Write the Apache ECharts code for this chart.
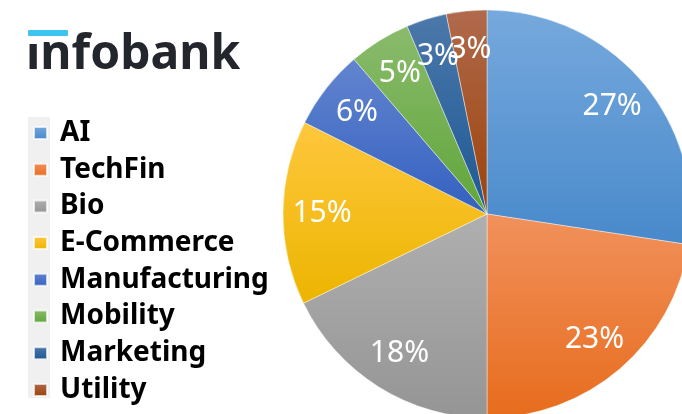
<!DOCTYPE html>
<html><head><meta charset="utf-8">
<script src="https://cdn.jsdelivr.net/npm/echarts@6/dist/echarts.min.js"></script>
<style>html,body{margin:0;padding:0;background:#fff}#c{width:682px;height:414px}</style>
</head><body><div id="c"></div>
<script>
const categories = ['AI','TechFin','Bio','E-Commerce','Manufacturing','Mobility','Marketing','Utility'];
const shares = [27.4, 22.6, 17.8, 14.6, 6.3, 4.9, 3.2, 3.2];
const topColors = ['#76a9dd','#f1915c','#afafaf','#ffc73d','#6385cf','#8abb6c','#4c78aa','#b06a4c'];
const bottomColors = ['#4889cb','#e76c1d','#959595','#ecb500','#3360c0','#60a53a','#1d5894','#9b4208'];
const brand = 'infobank';

function grad(i){
  return {type:'linear',x:0,y:0,x2:0,y2:1,colorStops:[{offset:0,color:topColors[i]},{offset:1,color:bottomColors[i]}]};
}
const pieData = categories.map((n,i)=>({name:n,value:shares[i],itemStyle:{color:grad(i)}}));
const chart = echarts.init(document.getElementById('c'));
chart.setOption({
  backgroundColor:'#fff',
  animation:false,
  graphic:[
    {type:'rect',shape:{x:28,y:117,width:22,height:281},style:{fill:'#f0f0f0'},z:-1},
    {type:'text',left:26,top:31,style:{text:brand,fontFamily:'Noto Sans',fontWeight:'bold',fontSize:48,fill:'#23272d'}},
    {type:'rect',shape:{x:26,y:33,width:16,height:11},style:{fill:'#fff'},z:101},
    {type:'rect',shape:{x:28,y:30,width:40,height:6,r:1},style:{fill:'#3cc5f0'},z:102}
  ],
  legend:{
    orient:'vertical',left:33,top:118,padding:0,
    itemWidth:13,itemHeight:12,itemGap:6.7,icon:'rect',
    textStyle:{fontFamily:'Noto Sans',fontWeight:'bold',fontSize:28,color:'#000',lineHeight:30,padding:[0,0,0,8]},
    data:categories
  },
  series:[
    {type:'pie',center:[487,214],radius:[0,204],startAngle:90,clockwise:true,
     itemStyle:{borderColor:'rgba(255,255,255,0.7)',borderWidth:0.6},
     label:{show:false},labelLine:{show:false},emphasis:{disabled:true},
     data:pieData},
    {type:'pie',center:[487,214],radius:[118,206],startAngle:90,clockwise:true,silent:true,
     legendHoverLink:false,avoidLabelOverlap:false,
     labelLayout:{hideOverlap:false},
     itemStyle:{color:'rgba(0,0,0,0)'},
     label:{show:true,position:'inside',color:'#fff',fontFamily:'Noto Sans',fontSize:30,
       formatter:p=>Math.round(p.value)+'%'},
     labelLine:{show:false},emphasis:{disabled:true},
     data:categories.map((n,i)=>({name:n+' ',value:shares[i]}))}
  ]
});
</script></body></html>
